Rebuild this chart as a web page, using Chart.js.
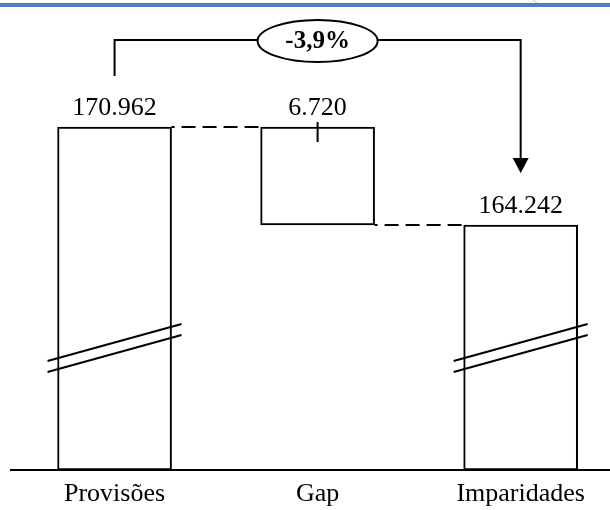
<!DOCTYPE html>
<html>
<head>
<meta charset="utf-8">
<script src="https://cdn.jsdelivr.net/npm/chart.js"></script>
<style>
    body { margin: 0; background: #fff; }
    canvas { display: block; }
</style>
</head>
<body>
<canvas id="grafico" width="610" height="510"></canvas>
<script>
// dados do grafico
var categorias = ['Provisões', 'Gap', 'Imparidades'];
var provisoes = 170962;
var imparidades = 164242;
var gap = provisoes - imparidades;

// o eixo y esta cortado, por isso a escala nao comeca no zero
var eixoMin = 147440;
var eixoMax = 177750;

// inicio e fim de cada barra (barras flutuantes)
var inicio = [eixoMin, imparidades, eixoMin];
var fim = [provisoes, provisoes, imparidades];
var rotulos = [provisoes, gap, imparidades];

var variacao = (imparidades / provisoes - 1) * 100;

function formatar(n) {
    return String(n).replace(/\B(?=(\d{3})+(?!\d))/g, '.');
}

var fonteTexto = '26px "Liberation Serif", serif';

var desenhos = {
    id: 'desenhos',
    beforeDraw: function (chart) {
        var ctx = chart.ctx;
        ctx.save();
        ctx.fillStyle = '#fff';
        ctx.fillRect(0, 0, chart.width, chart.height);
        // faixa azul do cabecalho
        ctx.fillStyle = '#4f81bd';
        ctx.fillRect(0, 3, chart.width, 4);
        ctx.strokeStyle = '#b8b8b8';
        ctx.lineWidth = 1;
        ctx.beginPath();
        ctx.moveTo(533, 0);
        ctx.lineTo(537, 3);
        ctx.stroke();
        ctx.restore();
    },
    afterDatasetsDraw: function (chart) {
        var ctx = chart.ctx;
        var barras = chart.getDatasetMeta(0).data;
        var y = chart.scales.y;
        ctx.save();
        ctx.strokeStyle = '#000';
        ctx.fillStyle = '#000';

        // linhas tracejadas entre as barras
        ctx.lineWidth = 2;
        ctx.setLineDash([14, 7]);
        ctx.lineDashOffset = -10;
        var y1 = Math.round(y.getPixelForValue(fim[0]));
        var y2 = Math.round(y.getPixelForValue(fim[2]));
        ctx.beginPath();
        ctx.moveTo(barras[0].x + barras[0].width / 2, y1);
        ctx.lineTo(barras[1].x - barras[1].width / 2, y1);
        ctx.moveTo(barras[1].x + barras[1].width / 2, y2);
        ctx.lineTo(barras[2].x - barras[2].width / 2, y2);
        ctx.stroke();
        ctx.setLineDash([]);

        // marca no topo da barra do gap
        ctx.beginPath();
        ctx.moveTo(barras[1].x, barras[1].y - 5);
        ctx.lineTo(barras[1].x, barras[1].y + 15);
        ctx.stroke();

        // cortes do eixo nas barras grandes
        [0, 2].forEach(function (i) {
            var b = barras[i];
            var xa = b.x - b.width / 2 - 10;
            var xb = b.x + b.width / 2 + 10;
            ctx.beginPath();
            ctx.moveTo(xa, b.base - 109);
            ctx.lineTo(xb, b.base - 146);
            ctx.moveTo(xa, b.base - 98);
            ctx.lineTo(xb, b.base - 135);
            ctx.stroke();
        });

        // valores por cima das barras
        ctx.font = fonteTexto;
        ctx.textAlign = 'center';
        ctx.textBaseline = 'alphabetic';
        barras.forEach(function (b, i) {
            ctx.fillText(formatar(rotulos[i]), b.x, b.y - 12);
        });

        // seta de variacao
        var topo = 40;
        var xe = barras[0].x;
        var xd = barras[2].x;
        var pontaSeta = barras[2].y - 52;
        ctx.beginPath();
        ctx.moveTo(xe, barras[0].y - 51);
        ctx.lineTo(xe, topo);
        ctx.lineTo(xd, topo);
        ctx.lineTo(xd, pontaSeta - 15);
        ctx.stroke();
        ctx.beginPath();
        ctx.moveTo(xd - 8, pontaSeta - 15);
        ctx.lineTo(xd + 8, pontaSeta - 15);
        ctx.lineTo(xd, pontaSeta);
        ctx.closePath();
        ctx.fill();

        var xc = (xe + xd) / 2;
        ctx.beginPath();
        ctx.ellipse(xc, topo + 1, 60, 21, 0, 0, Math.PI * 2);
        ctx.fillStyle = '#fff';
        ctx.fill();
        ctx.stroke();
        ctx.fillStyle = '#000';
        ctx.font = 'bold 25px "Liberation Serif", serif';
        ctx.textBaseline = 'middle';
        ctx.fillText(variacao.toFixed(1).replace('.', ',') + '%', xc, topo + 2);
        ctx.restore();
    }
};

var dados = categorias.map(function (c, i) {
    return { x: i, y: [inicio[i], fim[i]] };
});

var grafico = new Chart(document.getElementById('grafico'), {
    type: 'bar',
    data: {
        datasets: [{
            data: dados,
            backgroundColor: '#fff',
            borderColor: '#000',
            borderWidth: 2,
            borderSkipped: false,
            barThickness: 114
        }]
    },
    options: {
        responsive: false,
        animation: false,
        devicePixelRatio: 1,
        layout: { padding: { left: 11, right: 0, top: 28, bottom: 0 } },
        plugins: {
            legend: { display: false },
            tooltip: { enabled: false }
        },
        scales: {
            x: {
                type: 'linear',
                offset: false,
                min: -0.51,
                max: 2.44,
                grid: { display: false, drawTicks: false },
                border: { display: true, color: '#000', width: 2 },
                afterBuildTicks: function (s) {
                    s.ticks = categorias.map(function (c, i) { return { value: i }; });
                },
                afterFit: function (s) { s.height = 40; },
                ticks: {
                    padding: 9,
                    color: '#000',
                    maxRotation: 0,
                    autoSkip: false,
                    font: { family: '"Liberation Serif", serif', size: 26 },
                    callback: function (v) { return categorias[v]; }
                }
            },
            y: {
                display: false,
                min: eixoMin,
                max: eixoMax
            }
        }
    },
    plugins: [desenhos]
});
</script>
</body>
</html>
